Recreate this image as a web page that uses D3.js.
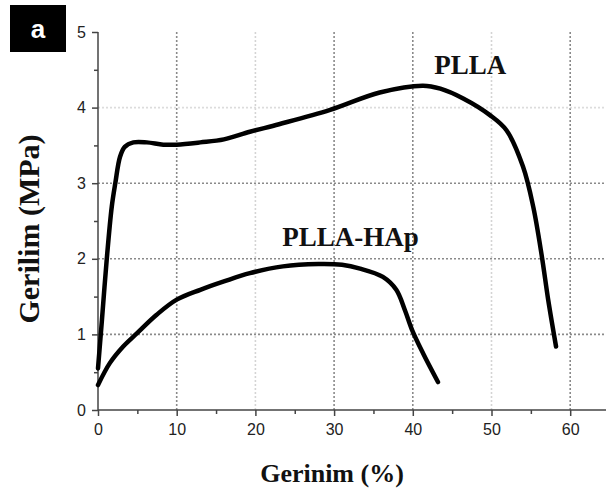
<!DOCTYPE html>
<html><head><meta charset="utf-8">
<script src="https://cdn.jsdelivr.net/npm/d3@7"></script>
<style>body{margin:0;background:#fff}svg{display:block}</style>
</head><body>
<svg id="chart" width="606" height="494"></svg>
<script>
const xTicks = [0, 10, 20, 30, 40, 50, 60];
const yTicks = [0, 1, 2, 3, 4, 5];
const pllaStrain = [0, 0.5, 1.1, 1.75, 2.2, 2.8, 3.4, 4.5, 6.2, 8.3, 10, 13, 16, 19.3, 23, 29.5, 35.8, 41.3, 43.5, 46.4, 49.8, 51.9, 54.0, 55.3, 56.4, 57.2, 58.2];
const pllaStress = [0.55, 1.19, 1.98, 2.69, 3.0, 3.35, 3.48, 3.54, 3.54, 3.51, 3.51, 3.54, 3.58, 3.68, 3.78, 3.97, 4.2, 4.29, 4.25, 4.12, 3.9, 3.7, 3.22, 2.69, 2.03, 1.46, 0.84];
const hapStrain = [0, 1.5, 3.2, 4.9, 7.45, 10, 13, 16, 19.3, 23.5, 28, 31, 33.3, 36.2, 37.9, 39.0, 39.9, 41.3, 43.2];
const hapStress = [0.33, 0.62, 0.84, 1.01, 1.26, 1.46, 1.59, 1.70, 1.81, 1.90, 1.93, 1.92, 1.87, 1.76, 1.59, 1.32, 1.06, 0.75, 0.37];
const seriesNames = ["PLLA", "PLLA-HAp"];
const xTitle = "Gerinim (%)";
const yTitle = "Gerilim (MPa)";
const panelLabel = "a";

const svg = d3.select("#chart");
const x = d3.scaleLinear().domain([0, 65]).range([98, 98 + 65 * 7.87]);
const y = d3.scaleLinear().domain([0, 5]).range([410, 32]);

// gridlines
const darkV = new Set([10, 30, 40, 60]);
svg.append("g").selectAll("line").data(xTicks.filter(d => d > 0)).join("line")
  .attr("x1", d => x(d)).attr("x2", d => x(d)).attr("y1", y(5)).attr("y2", y(0))
  .attr("stroke", d => darkV.has(d) ? "#8a8a8a" : "#d4d4d4")
  .attr("stroke-width", 1.6).attr("stroke-dasharray", "2,2");
svg.append("g").selectAll("line").data([1, 2, 3, 4]).join("line")
  .attr("x1", x(0)).attr("x2", 606).attr("y1", d => y(d)).attr("y2", d => y(d))
  .attr("stroke", d => d === 4 ? "#dcdcdc" : "#8a8a8a")
  .attr("stroke-width", 1.6).attr("stroke-dasharray", "2,2");

// axes
const fmt = d3.format("d");
const xAxis = svg.append("g").attr("transform", `translate(0,${y(0)})`)
  .call(d3.axisBottom(x).tickValues(xTicks).tickFormat(fmt).tickSize(6).tickPadding(8));
const xMinor = svg.append("g").attr("transform", `translate(0,${y(0)})`)
  .call(d3.axisBottom(x).tickValues(xTicks.map(d => d + 5)).tickSize(4).tickFormat(""));
xMinor.select(".domain").remove();
const yAxis = svg.append("g").attr("transform", `translate(${x(0)},0)`)
  .call(d3.axisLeft(y).tickValues(yTicks).tickFormat(fmt).tickSize(6).tickPadding(6));
const yMinor = svg.append("g").attr("transform", `translate(${x(0)},0)`)
  .call(d3.axisLeft(y).tickValues(yTicks.slice(0, 5).map(d => d + 0.5)).tickSize(4).tickFormat(""));
yMinor.select(".domain").remove();
xAxis.select(".domain").attr("d", `M${x(0)},0H606`);
yAxis.select(".domain").attr("d", `M0,${y(0)}V${y(5)}`);
svg.selectAll(".domain").attr("stroke", "#444").attr("stroke-width", 1.5);
svg.selectAll(".tick line").attr("stroke", "#444").attr("stroke-width", 1.5);
svg.selectAll(".tick text").attr("font-family", "Liberation Sans, Arial, sans-serif")
  .attr("font-size", 16).attr("fill", "#222");

// curves
const line = d3.line().x(d => x(d[0])).y(d => y(d[1])).curve(d3.curveCatmullRom.alpha(0.5));
const series = [d3.zip(pllaStrain, pllaStress), d3.zip(hapStrain, hapStress)];
svg.append("g").selectAll("path").data(series).join("path")
  .attr("d", line).attr("fill", "none").attr("stroke", "#000")
  .attr("stroke-width", 4.5).attr("stroke-linecap", "round").attr("stroke-linejoin", "round");

// series labels
const labelPos = [[47.3, 4.45], [32.1, 2.17]];
svg.append("g").selectAll("text").data(seriesNames).join("text")
  .attr("x", (d, i) => x(labelPos[i][0])).attr("y", (d, i) => y(labelPos[i][1]))
  .attr("text-anchor", "middle")
  .attr("font-family", "Liberation Serif, Times New Roman, serif")
  .attr("font-weight", "bold").attr("font-size", 27).attr("fill", "#111")
  .text(d => d);

// axis titles
svg.append("text").attr("x", 332).attr("y", 482).attr("text-anchor", "middle")
  .attr("font-family", "Liberation Serif, Times New Roman, serif")
  .attr("font-weight", "bold").attr("font-size", 26).attr("fill", "#111").text(xTitle);
svg.append("text").attr("transform", "translate(39,229) rotate(-90)").attr("text-anchor", "middle")
  .attr("font-family", "Liberation Serif, Times New Roman, serif")
  .attr("font-weight", "bold").attr("font-size", 30).attr("fill", "#111").text(yTitle);

// panel label
svg.append("rect").attr("x", 10).attr("y", 5).attr("width", 56).attr("height", 47).attr("fill", "#000");
svg.append("text").attr("x", 38).attr("y", 38).attr("text-anchor", "middle")
  .attr("font-family", "Liberation Sans, Arial, sans-serif").attr("font-weight", "bold")
  .attr("font-size", 26).attr("fill", "#fff").text(panelLabel);
</script>
</body></html>
